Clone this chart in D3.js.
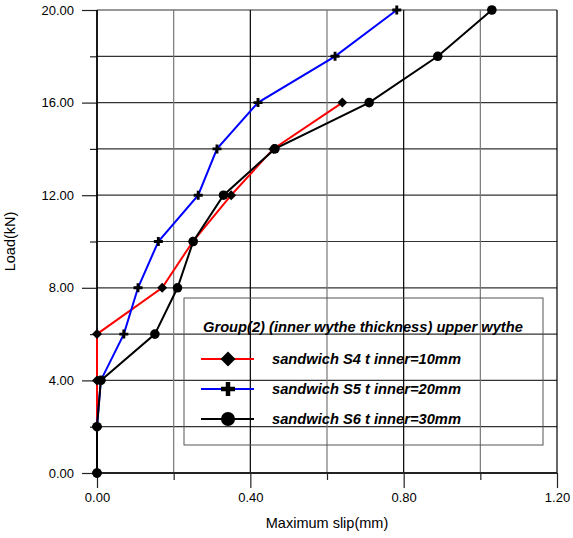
<!DOCTYPE html>
<html>
<head>
<meta charset="utf-8">
<script src="https://cdn.jsdelivr.net/npm/d3@7"></script>
<style>
  body { margin: 0; background: #fff; }
  svg { font-family: "Liberation Sans", Arial, sans-serif; }
</style>
</head>
<body>
<div id="chart"></div>
<script>
// load steps (kN)
var loads = [0, 2, 4, 6, 8, 10, 12, 14, 16, 18, 20];

// maximum slip (mm) per series
var slipS4 = [0, 0, 0, 0, 0.17, 0.25, 0.35, 0.46, 0.64];
var slipS5 = [0, 0, 0.01, 0.07, 0.107, 0.16, 0.264, 0.313, 0.42, 0.621, 0.782];
var slipS6 = [0, 0, 0.01, 0.151, 0.21, 0.251, 0.33, 0.464, 0.71, 0.889, 1.03];

var seriesNames = ["sandwich S4 t inner=10mm", "sandwich S5 t inner=20mm", "sandwich S6 t inner=30mm"];
var seriesColors = ["#ff0000", "#0000ff", "#000000"];
var seriesMarkers = ["diamond", "plus", "circle"];
var legendTitle = "Group(2) (inner wythe thickness) upper wythe";

var xMajor = [0, 0.4, 0.8, 1.2];
var xMinor = [0.2, 0.6, 1.0];
var yMajor = [0, 4, 8, 12, 16, 20];
var yMinor = [2, 6, 10, 14, 18];

// dimensions
var width = 573, height = 538;
var plotLeft = 97, plotRight = 557, plotTop = 10, plotBottom = 473;

var x = d3.scaleLinear().domain([0, 1.2]).range([plotLeft, plotRight]);
var y = d3.scaleLinear().domain([0, 20]).range([plotBottom, plotTop]);

var svg = d3.select("#chart").append("svg")
    .attr("width", width)
    .attr("height", height);

// grid lines
var grid = svg.append("g").attr("class", "grid");
grid.selectAll("line.hy")
    .data(yMajor.concat(yMinor))
  .enter().append("line")
    .attr("x1", plotLeft)
    .attr("x2", plotRight)
    .attr("y1", function(d) { return y(d); })
    .attr("y2", function(d) { return y(d); })
    .attr("stroke", "#333")
    .attr("stroke-width", 1.2);

grid.selectAll("line.vx")
    .data(xMajor.concat(xMinor))
  .enter().append("line")
    .attr("x1", function(d) { return x(d); })
    .attr("x2", function(d) { return x(d); })
    .attr("y1", plotTop)
    .attr("y2", plotBottom)
    .attr("stroke", function(d) { return xMajor.indexOf(d) >= 0 ? "#000" : "#777"; })
    .attr("stroke-width", 1.2);

// axes: major ticks with labels, minor ticks without
var fmt = d3.format(".2f");

svg.append("g")
    .attr("transform", "translate(0," + plotBottom + ")")
    .call(d3.axisBottom(x).tickValues(xMajor).tickSize(15).tickPadding(5).tickFormat(fmt))
    .call(function(g) { g.select(".domain").remove(); });

svg.append("g")
    .attr("transform", "translate(0," + plotBottom + ")")
    .call(d3.axisBottom(x).tickValues(xMinor).tickSize(7).tickFormat(""))
    .call(function(g) { g.select(".domain").remove(); });

svg.append("g")
    .attr("transform", "translate(" + plotLeft + ",0)")
    .call(d3.axisLeft(y).tickValues(yMajor).tickSize(15).tickPadding(8).tickFormat(fmt))
    .call(function(g) { g.select(".domain").remove(); });

svg.append("g")
    .attr("transform", "translate(" + plotLeft + ",0)")
    .call(d3.axisLeft(y).tickValues(yMinor).tickSize(7).tickFormat(""))
    .call(function(g) { g.select(".domain").remove(); });

svg.selectAll(".tick text")
    .attr("font-size", 13)
    .attr("font-family", "Liberation Sans, Arial, sans-serif")
    .attr("fill", "#000");
svg.selectAll(".tick line").attr("stroke", "#222").attr("stroke-width", 1.2);

// axis frame lines
svg.append("line")
    .attr("x1", plotLeft).attr("x2", plotLeft)
    .attr("y1", plotTop).attr("y2", plotBottom)
    .attr("stroke", "#000").attr("stroke-width", 1.5);
svg.append("line")
    .attr("x1", plotLeft).attr("x2", plotRight)
    .attr("y1", plotBottom).attr("y2", plotBottom)
    .attr("stroke", "#222").attr("stroke-width", 1.8);

// axis titles
svg.append("text")
    .attr("x", (plotLeft + plotRight) / 2)
    .attr("y", 528)
    .attr("text-anchor", "middle")
    .attr("font-size", 14.5)
    .text("Maximum slip(mm)");

svg.append("text")
    .attr("transform", "translate(15," + ((plotTop + plotBottom) / 2) + ") rotate(-90)")
    .attr("text-anchor", "middle")
    .attr("font-size", 14.5)
    .text("Load(kN)");

// marker drawing
function drawMarker(g, type, s) {
    if (type === "diamond") {
        g.append("path")
            .attr("d", "M0," + (-s) + "L" + s + ",0L0," + s + "L" + (-s) + ",0Z")
            .attr("fill", "#000");
    } else if (type === "plus") {
        var t = s * 0.32;
        g.append("path")
            .attr("d", "M" + (-t) + "," + (-s) + "H" + t + "V" + (-t) + "H" + s + "V" + t +
                "H" + t + "V" + s + "H" + (-t) + "V" + t + "H" + (-s) + "V" + (-t) + "H" + (-t) + "Z")
            .attr("fill", "#000");
    } else {
        g.append("circle").attr("r", s).attr("fill", "#000");
    }
}

// series
var allSlips = [slipS4, slipS5, slipS6];
var markerSize = [5, 4.5, 4.8];
var line = d3.line()
    .x(function(d) { return x(d[0]); })
    .y(function(d) { return y(d[1]); });

allSlips.forEach(function(slips, i) {
    var pts = slips.map(function(v, j) { return [v, loads[j]]; });
    svg.append("path")
        .datum(pts)
        .attr("d", line)
        .attr("fill", "none")
        .attr("stroke", seriesColors[i])
        .attr("stroke-width", 2);
    pts.forEach(function(p) {
        var g = svg.append("g").attr("transform", "translate(" + x(p[0]) + "," + y(p[1]) + ")");
        drawMarker(g, seriesMarkers[i], markerSize[i]);
    });
});

// legend
var legend = svg.append("g").attr("class", "legend");
legend.append("rect")
    .attr("x", 184).attr("y", 298)
    .attr("width", 359).attr("height", 147)
    .attr("fill", "none")
    .attr("stroke", "#555")
    .attr("stroke-width", 1);

legend.append("text")
    .attr("x", 203)
    .attr("y", 332)
    .attr("font-size", 14.7)
    .attr("font-weight", "bold")
    .attr("font-style", "italic")
    .text(legendTitle);

var legendMarkerSize = [7.5, 7, 7];
seriesNames.forEach(function(name, i) {
    var ly = 359 + i * 30;
    legend.append("line")
        .attr("x1", 201).attr("x2", 254)
        .attr("y1", ly).attr("y2", ly)
        .attr("stroke", seriesColors[i])
        .attr("stroke-width", 2);
    var g = legend.append("g").attr("transform", "translate(228," + ly + ")");
    drawMarker(g, seriesMarkers[i], legendMarkerSize[i]);
    legend.append("text")
        .attr("x", 272)
        .attr("y", ly + 5)
        .attr("font-size", 14.7)
        .attr("font-weight", "bold")
        .attr("font-style", "italic")
        .text(name);
});
</script>
</body>
</html>
